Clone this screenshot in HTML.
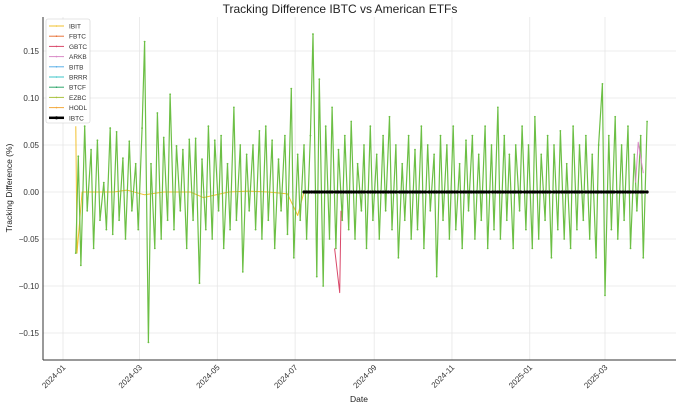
<!DOCTYPE html>
<html><head><meta charset="utf-8"><style>
body{margin:0;background:#fff;font-family:"Liberation Sans",sans-serif}
svg text{font-family:"Liberation Sans",sans-serif}
</style></head><body>
<svg id="c" width="680" height="408" xmlns="http://www.w3.org/2000/svg"></svg>
<script>
const greenValues=[-0.065,0.038,-0.078,0.07,-0.02,0.045,-0.06,0.055,-0.03,0.01,
-0.04,0.068,-0.045,0.064,-0.03,0.036,-0.05,0.054,-0.02,0.03,
-0.04,0.068,0.16,-0.16,0.03,-0.06,0.084,-0.05,0.058,-0.03,
0.104,-0.04,0.049,-0.02,0.045,-0.06,0.056,-0.03,0.057,-0.097,
0.035,-0.04,0.07,-0.05,0.055,-0.02,0.06,-0.06,0.03,-0.04,
0.09,-0.03,0.05,-0.085,0.04,-0.02,0.05,-0.04,0.065,-0.05,
0.07,-0.03,0.055,-0.06,0.035,-0.02,0.06,-0.045,0.11,-0.07,
0.04,-0.03,0.05,-0.05,0.06,0.168,-0.09,0.12,-0.1,0.07,
-0.05,0.09,-0.06,0.045,-0.03,0.06,-0.04,0.075,-0.05,0.03,
-0.02,0.05,-0.06,0.07,-0.03,0.04,-0.05,0.06,-0.02,0.08,
-0.04,0.05,-0.07,0.03,-0.03,0.06,-0.05,0.045,-0.04,0.07,
-0.06,0.05,-0.02,0.04,-0.09,0.06,-0.03,0.05,-0.05,0.07,
-0.04,0.03,-0.06,0.055,-0.02,0.06,-0.05,0.04,-0.03,0.07,
-0.06,0.05,-0.04,0.09,-0.05,0.06,-0.03,0.04,-0.06,0.05,
-0.02,0.07,-0.04,0.05,-0.06,0.08,-0.05,0.04,-0.03,0.06,
-0.07,0.05,-0.04,0.065,-0.05,0.03,-0.06,0.07,-0.04,0.05,
-0.03,0.06,-0.05,0.04,-0.07,0.05,0.115,-0.11,0.06,-0.04,
0.08,-0.05,0.05,-0.03,0.07,-0.06,0.04,-0.02,0.06,-0.07,0.075];
const greenStart="2024-01-11", greenEnd="2025-04-03";
const ibitDates=["2024-01-11","2024-01-12","2024-01-16","2024-01-25","2024-02-10","2024-02-20","2024-03-05","2024-03-20","2024-04-10","2024-04-20","2024-05-10","2024-05-25","2024-06-10","2024-06-25","2024-07-03","2024-07-08"];
const ibitValues=[0.07,-0.065,0.0,0.0,0.0,0.002,-0.003,0.0,0.0,-0.006,0.0,0.001,0.0,-0.002,-0.025,0.0];
const gbtcDates=["2024-08-01","2024-08-05","2024-08-06"];
const gbtcValues=[-0.06,-0.107,-0.02];
const arkbDates=["2025-03-25","2025-03-27","2025-03-31"];
const arkbValues=[0.01,0.053,0.02];
const ibtcStart="2024-07-08", ibtcEnd="2025-04-03";
const yTicks=[-0.15,-0.10,-0.05,0.00,0.05,0.10,0.15];
const xTicks=["2024-01","2024-03","2024-05","2024-07","2024-09","2024-11","2025-01","2025-03"];
const legendNames=["IBIT","FBTC","GBTC","ARKB","BITB","BRRR","BTCF","EZBC","HODL","IBTC"];
const legendColors=["#f2c12e","#e8743b","#d9486a","#d98ac7","#5ab0e8","#3cc6c9","#2fa66b","#a9c23f","#f3a93c","#000"];

const svg=document.getElementById('c');const NS="http://www.w3.org/2000/svg";
const L=43,R=676,T=17,B=360;
const d0=Date.parse("2024-01-01"),pxPerDay=542/425;
function X(d){return 63+(Date.parse(d)-d0)/864e5*pxPerDay;}
function Y(v){return 192-v*940;}
function el(t,a,p){const e=document.createElementNS(NS,t);for(const k in a)e.setAttribute(k,a[k]);(p||svg).appendChild(e);return e;}
yTicks.forEach(v=>{const g=el('line',{x1:L,x2:R,y1:Y(v),y2:Y(v),stroke:'#e6e6e6','stroke-width':0.8});

const t=el('text',{x:L-4,y:Y(v)+3,'font-size':8,'text-anchor':'end',fill:'#333'});t.textContent=(v<0?'\u2212':'')+Math.abs(v).toFixed(2);
});
xTicks.forEach(s=>{const x=X(s+"-01");const g=el('line',{x1:x,x2:x,y1:T,y2:B,stroke:'#e6e6e6','stroke-width':0.8});

const t=el('text',{x:x+3,y:B+8,'font-size':8,'text-anchor':'end',fill:'#333',transform:`rotate(-45 ${x+3} ${B+8})`});t.textContent=s;
});
function series(dates,vals,color,w,name,mr){const pts=dates.map((d,i)=>X(d).toFixed(1)+','+Y(vals[i]).toFixed(1)).join(' ');
const p=el('polyline',{points:pts,fill:'none',stroke:color,'stroke-width':w,'stroke-linejoin':'round'});

if(mr)dates.forEach((d,i)=>{const c=el('circle',{cx:X(d),cy:Y(vals[i]),r:mr,fill:color});});}
function spread(a,b,n){const s=Date.parse(a),e=Date.parse(b);const out=[];for(let i=0;i<n;i++)out.push(new Date(s+(e-s)*i/(n-1)).toISOString().slice(0,10));return out;}
series(ibitDates,ibitValues,'#f2c12e',1,'ibit-line',0);
const gd=spread(greenStart,greenEnd,greenValues.length);
series(gd,greenValues,'#6cbf45',1.2,'btcf-ezbc-line',0.9);
series(gbtcDates,gbtcValues,'#d9486a',1,'gbtc-line',0);
series(arkbDates,arkbValues,'#d98ac7',1,'arkb-line',0);
const bd=spread(ibtcStart,ibtcEnd,130);const bv=bd.map(()=>0);
series(bd,bv,'#000',2.5,'ibtc-line',1.6);
let a=el('line',{x1:L,x2:L,y1:T,y2:B,stroke:'#333','stroke-width':1});
a=el('line',{x1:L,x2:R,y1:B,y2:B,stroke:'#333','stroke-width':1});
let t=el('text',{x:340,y:13,'font-size':12,'text-anchor':'middle',fill:'#222'});t.textContent='Tracking Difference IBTC vs American ETFs';
t=el('text',{x:359,y:402,'font-size':8.5,'text-anchor':'middle',fill:'#222'});t.textContent='Date';
t=el('text',{x:12,y:188,'font-size':8.5,'text-anchor':'middle',fill:'#222',transform:'rotate(-90 12 188)'});t.textContent='Tracking Difference (%)';
const lg=el('g',{});
el('rect',{x:46,y:19,width:44,height:104,fill:'#fff','fill-opacity':0.85,stroke:'#ccc','stroke-width':0.6,rx:2},lg);
legendNames.forEach((n,i)=>{const y=26+i*10.2;const g=el('g',{},lg);
el('line',{x1:49,x2:64,y1:y,y2:y,stroke:legendColors[i],'stroke-width':n==='IBTC'?2.5:1},g);
el('circle',{cx:56.5,cy:y,r:n==='IBTC'?1.6:0.8,fill:legendColors[i]},g);
const tt=el('text',{x:69,y:y+2.5,'font-size':6.5,fill:'#333'},g);tt.textContent=n;});
</script>
</body></html>
